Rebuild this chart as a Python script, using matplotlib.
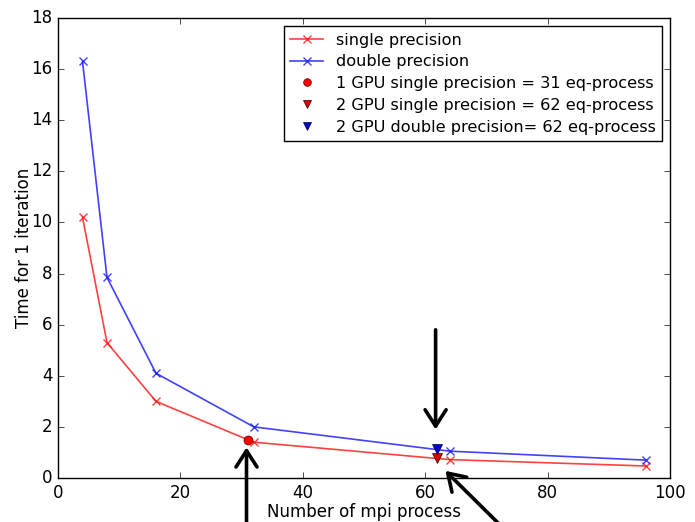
import matplotlib
matplotlib.use("Agg")
import matplotlib.pyplot as plt

procs = [4, 8, 16, 32, 64, 96]
single_time = [10.2, 5.3, 3.0, 1.4, 0.72, 0.47]
double_time = [16.3, 7.85, 4.1, 2.0, 1.05, 0.70]

gpu1_single = (31, 1.5)
gpu2_single = (62, 0.8)
gpu2_double = (62, 1.15)

# arrows: (tip, tail) in data coords
arrows = [((30.8, 1.2), (30.8, -2.6)),
          ((61.7, 1.9), (61.7, 5.8)),
          ((63.3, 0.28), (72.5, -1.9))]

plt.style.use("classic")
plt.rcParams["figure.facecolor"] = "white"
plt.rcParams["savefig.facecolor"] = "white"

fig = plt.figure(figsize=(6.95, 5.22), dpi=100)
ax = fig.add_axes([0.0835, 0.0843, 0.8805, 0.8812])

ax.plot(procs, single_time, "x-", color="#ff2020", alpha=0.85, lw=1.2, ms=6, mew=1,
        label="single precision")
ax.plot(procs, double_time, "x-", color="#2020ff", alpha=0.85, lw=1.2, ms=6, mew=1,
        label="double precision")
ax.plot(*gpu1_single, "o", color="red", ms=6.5, mec="#600000",
        label="1 GPU single precision = 31 eq-process")
ax.plot(*gpu2_single, "v", color="#dd0000", ms=6.5, mec="#400000",
        label="2 GPU single precision = 62 eq-process")
ax.plot(*gpu2_double, "v", color="#0000cc", ms=6.5, mec="#000040",
        label="2 GPU double precision= 62 eq-process")

for tip, tail in arrows:
    ax.annotate("", xy=tip, xytext=tail, annotation_clip=False,
                arrowprops=dict(arrowstyle="->,head_length=0.42,head_width=0.27",
                                lw=2.6, color="k", mutation_scale=28,
                                shrinkA=0, shrinkB=0))

ax.set_xlim(0, 100)
ax.set_ylim(0, 18)
ax.set_xticks(range(0, 101, 20))
ax.set_yticks(range(0, 19, 2))
ax.set_xlabel("Number of mpi process", labelpad=1)
ax.set_ylabel("Time for 1 iteration", labelpad=-1)

ax.legend(loc="upper right", numpoints=1, fancybox=False, fontsize=11.6,
          handlelength=2, labelspacing=0.42, borderaxespad=0.5, markerscale=0.85)

fig.savefig("out.png", dpi=100)
